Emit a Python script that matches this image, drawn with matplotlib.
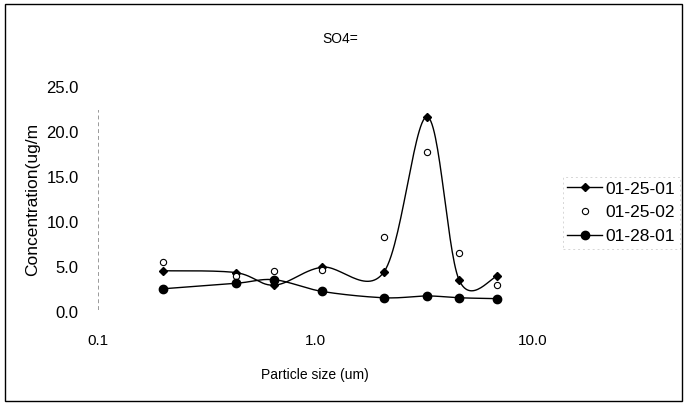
import numpy as np
import matplotlib.pyplot as plt
from matplotlib.patches import Rectangle

plt.rcParams['font.family'] = ['Liberation Sans', 'DejaVu Sans']

# particle size (um) and SO4= concentrations
size_um = [0.2, 0.43, 0.65, 1.08, 2.08, 3.28, 4.6, 6.9]
s_012501 = [4.6, 4.4, 3.0, 5.0, 4.5, 21.7, 3.6, 4.0]
s_012502 = [5.6, 4.0, 4.6, 4.7, 8.4, 17.8, 6.6, 3.0]
s_012801 = [2.6, 3.2, 3.6, 2.3, 1.6, 1.8, 1.6, 1.5]

y_ticks = [0, 5, 10, 15, 20, 25]
x_ticks = [0.1, 1.0, 10.0]


def smooth(xs, ys, n=30):
    # Excel-style smoothed line: Catmull-Rom through the points in log-x space
    lx = np.log10(xs)
    ys = np.asarray(ys, float)
    px = np.concatenate([[lx[0]], lx, [lx[-1]]])
    py = np.concatenate([[ys[0]], ys, [ys[-1]]])
    outx, outy = [], []
    t = np.linspace(0, 1, n)
    for i in range(1, len(px) - 2):
        p0, p1, p2, p3 = (np.array([px[j], py[j]]) for j in range(i - 1, i + 3))
        c1 = p1 + (p2 - p0) / 6
        c2 = p2 - (p3 - p1) / 6
        b = ((1 - t) ** 3)[:, None] * p1 + (3 * (1 - t) ** 2 * t)[:, None] * c1 \
            + (3 * (1 - t) * t ** 2)[:, None] * c2 + (t ** 3)[:, None] * p2
        outx.extend(b[:, 0])
        outy.extend(b[:, 1])
    return 10 ** np.array(outx), np.array(outy)


fig = plt.figure(figsize=(6.85, 4.07), dpi=100)
ax = fig.add_axes([0.143, 0.233, 0.634, 0.553])

sx, sy = smooth(size_um, s_012501)
ax.plot(sx, sy, color='black', lw=1.0)
ax.plot(size_um, s_012501, 'D', color='black', ms=4.5, ls='none')
ax.plot(size_um, s_012502, 'o', mfc='white', mec='black', mew=0.8, ms=4.5, ls='none')
sx, sy = smooth(size_um, s_012801)
ax.plot(sx, sy, color='black', lw=1.0)
ax.plot(size_um, s_012801, 'o', color='black', ms=6, ls='none')

# legend proxies
ax.plot([], [], '-D', color='black', ms=4.5, lw=1.0, label='01-25-01')
ax.plot([], [], 'o', mfc='white', mec='black', mew=0.8, ms=4.5, ls='none', label='01-25-02')
ax.plot([], [], '-o', color='black', ms=6, lw=1.0, label='01-28-01')
handles, labels = ax.get_legend_handles_labels()
leg = fig.legend(handles[-3:], labels[-3:], loc='upper left', bbox_to_anchor=(0.822, 0.565),
                 frameon=True, fontsize=12.5, handlelength=2.0, handletextpad=0.2,
                 labelspacing=0.5, borderpad=0.25, borderaxespad=0, fancybox=False)
leg.get_frame().set_edgecolor('#cccccc')
leg.get_frame().set_linestyle((0, (2, 3)))
leg.get_frame().set_linewidth(0.7)

ax.set_xscale('log')
ax.set_xlim(0.1, 10)
ax.set_ylim(0, 25)
ax.set_xticks(x_ticks)
ax.set_xticklabels([f'{v:.1f}' for v in x_ticks], fontsize=11)
ax.minorticks_off()
ax.set_yticks(y_ticks)
ax.set_yticklabels([f'{v:.1f}' for v in y_ticks], fontsize=12)
ax.tick_params(length=0, pad=16)
ax.tick_params(axis='y', pad=14)

for s in ['top', 'right', 'bottom']:
    ax.spines[s].set_visible(False)
ax.spines['left'].set_color('#999999')
ax.spines['left'].set_linestyle((0, (3, 4)))
ax.spines['left'].set_linewidth(0.7)
ax.spines['left'].set_bounds(0.3, 22.5)

ax.set_xlabel('Particle size (um)', fontsize=10, labelpad=14)
ax.set_ylabel('Concentration(ug/m', fontsize=12.5, labelpad=4)
fig.text(0.496, 0.905, 'SO4=', fontsize=10, ha='center', va='center')

fig.patches.append(Rectangle((0.008, 0.015), 0.988, 0.975, transform=fig.transFigure,
                             fill=False, edgecolor='black', lw=1.0))

fig.savefig('out.png', dpi=100)
